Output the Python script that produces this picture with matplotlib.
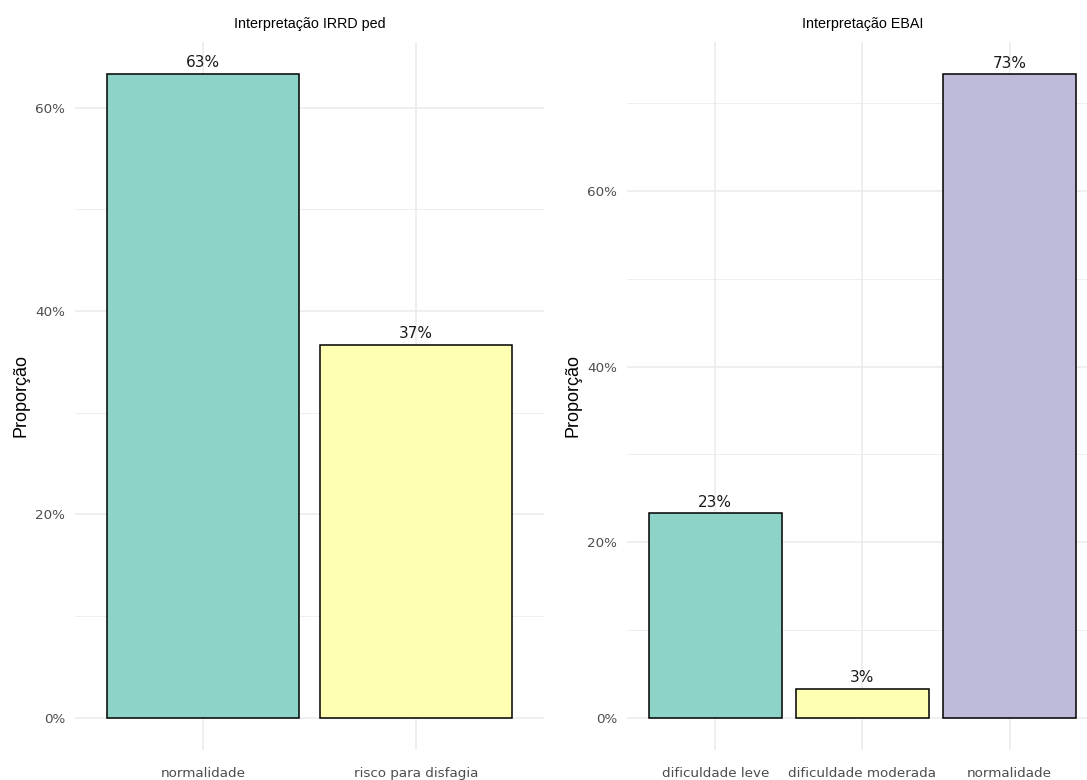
import matplotlib.pyplot as plt
from matplotlib.ticker import MultipleLocator, PercentFormatter

plt.rcParams['font.family'] = ['Liberation Sans', 'DejaVu Sans']

# IRRD ped interpretation
irrd_cats = ['normalidade', 'risco para disfagia']
irrd_props = [0.633, 0.367]

# EBAI interpretation
ebai_cats = ['dificuldade leve', 'dificuldade moderada', 'normalidade']
ebai_props = [0.233, 0.033, 0.733]

set3 = ['#8DD3C7', '#FFFFB3', '#BEBADA']
grid_col = '#EBEBEB'


def draw_panel(ax, cats, props, title):
    x = list(range(len(cats)))
    ax.bar(x, props, width=0.9, color=set3[:len(cats)], edgecolor='black',
           linewidth=1.1, zorder=3)
    for xi, p in zip(x, props):
        ax.text(xi, p + 0.004, f'{round(p * 100):.0f}%', ha='center', va='bottom',
                fontsize=11, family='DejaVu Sans', color='#1a1a1a', zorder=4)

    top = max(props)
    pad = top * 0.05
    ax.set_ylim(-pad, top + pad)
    ax.set_xlim(-0.6, len(cats) - 0.4)

    ax.yaxis.set_major_locator(MultipleLocator(0.2))
    ax.yaxis.set_minor_locator(MultipleLocator(0.1))
    ax.yaxis.set_major_formatter(PercentFormatter(1.0, decimals=0))
    ax.set_xticks(x)
    ax.set_xticklabels(cats)

    ax.grid(True, which='major', color=grid_col, linewidth=1.1, zorder=0)
    ax.grid(True, which='minor', axis='y', color=grid_col, linewidth=0.6, zorder=0)
    for s in ax.spines.values():
        s.set_visible(False)
    ax.tick_params(which='both', length=0, labelsize=9.7, labelcolor='#4D4D4D')
    ax.tick_params(axis='x', pad=12)
    ax.tick_params(axis='y', pad=7)
    for lbl in ax.get_xticklabels() + ax.get_yticklabels():
        lbl.set_family('DejaVu Sans')

    ax.set_ylabel('Proporção', fontsize=13, color='black', labelpad=4)
    ax.set_title(title, fontsize=10.3, color='black', pad=10)


fig = plt.figure(figsize=(10.87, 7.8), dpi=100)
ax1 = fig.add_axes([0.069, 0.0385, 0.4315, 0.9077])
ax2 = fig.add_axes([0.5768, 0.0385, 0.4333, 0.9077])

draw_panel(ax1, irrd_cats, irrd_props, 'Interpretação IRRD ped')
draw_panel(ax2, ebai_cats, ebai_props, 'Interpretação EBAI')

fig.savefig('out.png', dpi=100)
